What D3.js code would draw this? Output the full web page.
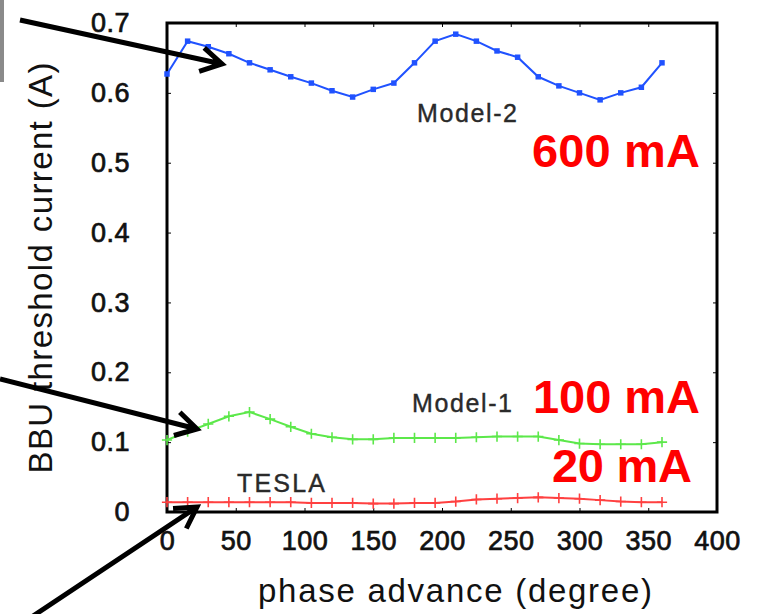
<!DOCTYPE html>
<html>
<head>
<meta charset="utf-8">
<script src="https://cdn.jsdelivr.net/npm/d3@7"></script>
<style>
    body { margin: 0; background: #fff; }
    svg { display: block; font-family: "Liberation Sans", Arial, sans-serif; }
</style>
</head>
<body>
<svg id="chart"></svg>
<script>
const phase = [0, 15, 30, 45, 60, 75, 90, 105, 120, 135, 150, 165, 180,
    195, 210, 225, 240, 255, 270, 285, 300, 315, 330, 345, 360];

const model2 = [0.627, 0.674, 0.666, 0.656, 0.643, 0.633, 0.623, 0.614, 0.603, 0.594, 0.605, 0.614, 0.643,
    0.674, 0.684, 0.674, 0.660, 0.651, 0.623, 0.610, 0.600, 0.590, 0.600, 0.608, 0.643];

const model1 = [0.103, 0.115, 0.126, 0.137, 0.143, 0.133, 0.122, 0.112, 0.107, 0.104, 0.104, 0.106, 0.106,
    0.106, 0.106, 0.107, 0.108, 0.108, 0.108, 0.103, 0.098, 0.097, 0.097, 0.097, 0.100];

const tesla = [0.014, 0.014, 0.014, 0.014, 0.014, 0.014, 0.014, 0.013, 0.013, 0.013, 0.012, 0.012, 0.013,
    0.013, 0.015, 0.018, 0.019, 0.020, 0.021, 0.020, 0.019, 0.017, 0.015, 0.014, 0.014];

const xTicks = [0, 50, 100, 150, 200, 250, 300, 350, 400];
const yTicks = [0, 0.1, 0.2, 0.3, 0.4, 0.5, 0.6, 0.7];

class PhaseChart {

    constructor(config) {
        this.config = {
            parent: config.parent,
            width: config.width || 758,
            height: config.height || 614,
            left: 167, right: 717, top: 23, bottom: 512
        };
        this.init();
    }

    init() {
        let self = this;
        let c = self.config;

        self.svg = d3.select(c.parent)
            .attr('width', c.width)
            .attr('height', c.height);

        self.x = d3.scaleLinear().domain([0, 400]).range([c.left, c.right]);
        self.y = d3.scaleLinear().domain([0, 0.7]).range([c.bottom, c.top]);
    }

    render() {
        let self = this;
        let c = self.config;
        let x = self.x, y = self.y;

        // grey strip at the left edge of the slide
        self.svg.append('rect')
            .attr('x', 0).attr('y', 0).attr('width', 4).attr('height', 82)
            .attr('fill', '#8a8a8a');

        // axes (inward ticks on all four sides)
        let tickFont = g => g.selectAll('text')
            .style('font-size', '27px')
            .style('letter-spacing', '0.5px')
            .attr('fill', '#111')
            .attr('stroke', '#111')
            .attr('stroke-width', 0.7);

        self.svg.append('g')
            .attr('transform', `translate(0,${c.bottom})`)
            .call(d3.axisBottom(x).tickValues(xTicks).tickSize(-4).tickPadding(19).tickFormat(d3.format('d')))
            .call(g => g.select('.domain').remove())
            .call(tickFont);

        self.svg.append('g')
            .attr('transform', `translate(0,${c.top})`)
            .call(d3.axisTop(x).tickValues(xTicks).tickSize(-4).tickFormat(''))
            .call(g => g.select('.domain').remove());

        self.svg.append('g')
            .attr('transform', `translate(${c.left},0)`)
            .call(d3.axisLeft(y).tickValues(yTicks).tickSize(-4).tickPadding(37)
                .tickFormat(d => d === 0 ? '0' : d3.format('.1f')(d)))
            .call(g => g.select('.domain').remove())
            .call(tickFont);

        self.svg.append('g')
            .attr('transform', `translate(${c.right},0)`)
            .call(d3.axisRight(y).tickValues(yTicks).tickSize(-4).tickFormat(''))
            .call(g => g.select('.domain').remove());

        self.svg.append('rect')
            .attr('x', c.left).attr('y', c.top)
            .attr('width', c.right - c.left).attr('height', c.bottom - c.top)
            .attr('fill', 'none').attr('stroke', '#000').attr('stroke-width', 3);

        // axis titles
        self.svg.append('text')
            .attr('x', 455).attr('y', 602)
            .attr('text-anchor', 'middle')
            .attr('textLength', 394)
            .style('font-size', '33px').attr('fill', '#111')
            .text('phase advance (degree)');

        self.svg.append('text')
            .attr('transform', 'translate(52,268) rotate(-90)')
            .attr('text-anchor', 'middle')
            .attr('textLength', 411)
            .style('font-size', '33px').attr('fill', '#111')
            .text('BBU threshold current (A)');

        // series
        let series = [
            { values: model2, color: '#2052ff', marker: 'square' },
            { values: model1, color: '#5ce84a', marker: 'plus' },
            { values: tesla, color: '#ff4040', marker: 'plus' }
        ];

        let line = d3.line().x(d => x(d[0])).y(d => y(d[1]));

        series.forEach(s => {
            let pts = phase.map((p, i) => [p, s.values[i]]);
            self.svg.append('path')
                .datum(pts)
                .attr('d', line)
                .attr('fill', 'none')
                .attr('stroke', s.color)
                .attr('stroke-width', 2);

            let sym = s.marker === 'square'
                ? d3.symbol().type(d3.symbolSquare).size(30)
                : d3.symbol().type(d3.symbolCross2 || d3.symbolPlus).size(36);

            self.svg.append('g').selectAll('path')
                .data(pts).enter()
                .append('path')
                .attr('transform', d => `translate(${x(d[0])},${y(d[1])})`)
                .attr('d', sym)
                .attr('fill', s.marker === 'square' ? s.color : 'none')
                .attr('stroke', s.color)
                .attr('stroke-width', s.marker === 'square' ? 0 : 1.6);
        });

        // series names
        let names = [
            { text: 'Model-2', x: 417, y: 122, len: 100 },
            { text: 'Model-1', x: 412, y: 412, len: 100 },
            { text: 'TESLA', x: 237, y: 492, len: 88 }
        ];
        self.svg.append('g').selectAll('text')
            .data(names).enter()
            .append('text')
            .attr('x', d => d.x).attr('y', d => d.y)
            .attr('textLength', d => d.len)
            .style('font-size', '25px')
            .attr('fill', '#2a2a2a')
            .attr('stroke', '#2a2a2a')
            .attr('stroke-width', 0.4)
            .text(d => d.text);

        // red annotations
        let notes = [
            { text: '600 mA', x: 532, y: 167, len: 168 },
            { text: '100 mA', x: 533, y: 413, len: 167 },
            { text: '20 mA', x: 552, y: 482, len: 140 }
        ];
        self.svg.append('g').selectAll('text')
            .data(notes).enter()
            .append('text')
            .attr('x', d => d.x).attr('y', d => d.y)
            .attr('textLength', d => d.len)
            .style('font-size', '47px')
            .style('font-weight', 'bold')
            .attr('fill', '#ff0000')
            .text(d => d.text);

        // arrows
        let arrows = [
            [[20, 20], [222, 64]],
            [[0, 379], [197, 429]],
            [[33, 616], [197, 507]]
        ];
        arrows.forEach(a => {
            let [p0, p1] = a;
            let ang = Math.atan2(p1[1] - p0[1], p1[0] - p0[0]);
            let len = 24, spread = Math.PI / 6;
            let h1 = [p1[0] - len * Math.cos(ang - spread), p1[1] - len * Math.sin(ang - spread)];
            let h2 = [p1[0] - len * Math.cos(ang + spread), p1[1] - len * Math.sin(ang + spread)];
            self.svg.append('path')
                .attr('d', `M${p0}L${p1}M${h1}L${p1}L${h2}`)
                .attr('fill', 'none')
                .attr('stroke', '#000')
                .attr('stroke-width', 5)
                .attr('stroke-linejoin', 'miter');
        });
    }
}

let chart = new PhaseChart({ parent: '#chart', width: 758, height: 614 });
chart.render();
</script>
</body>
</html>
